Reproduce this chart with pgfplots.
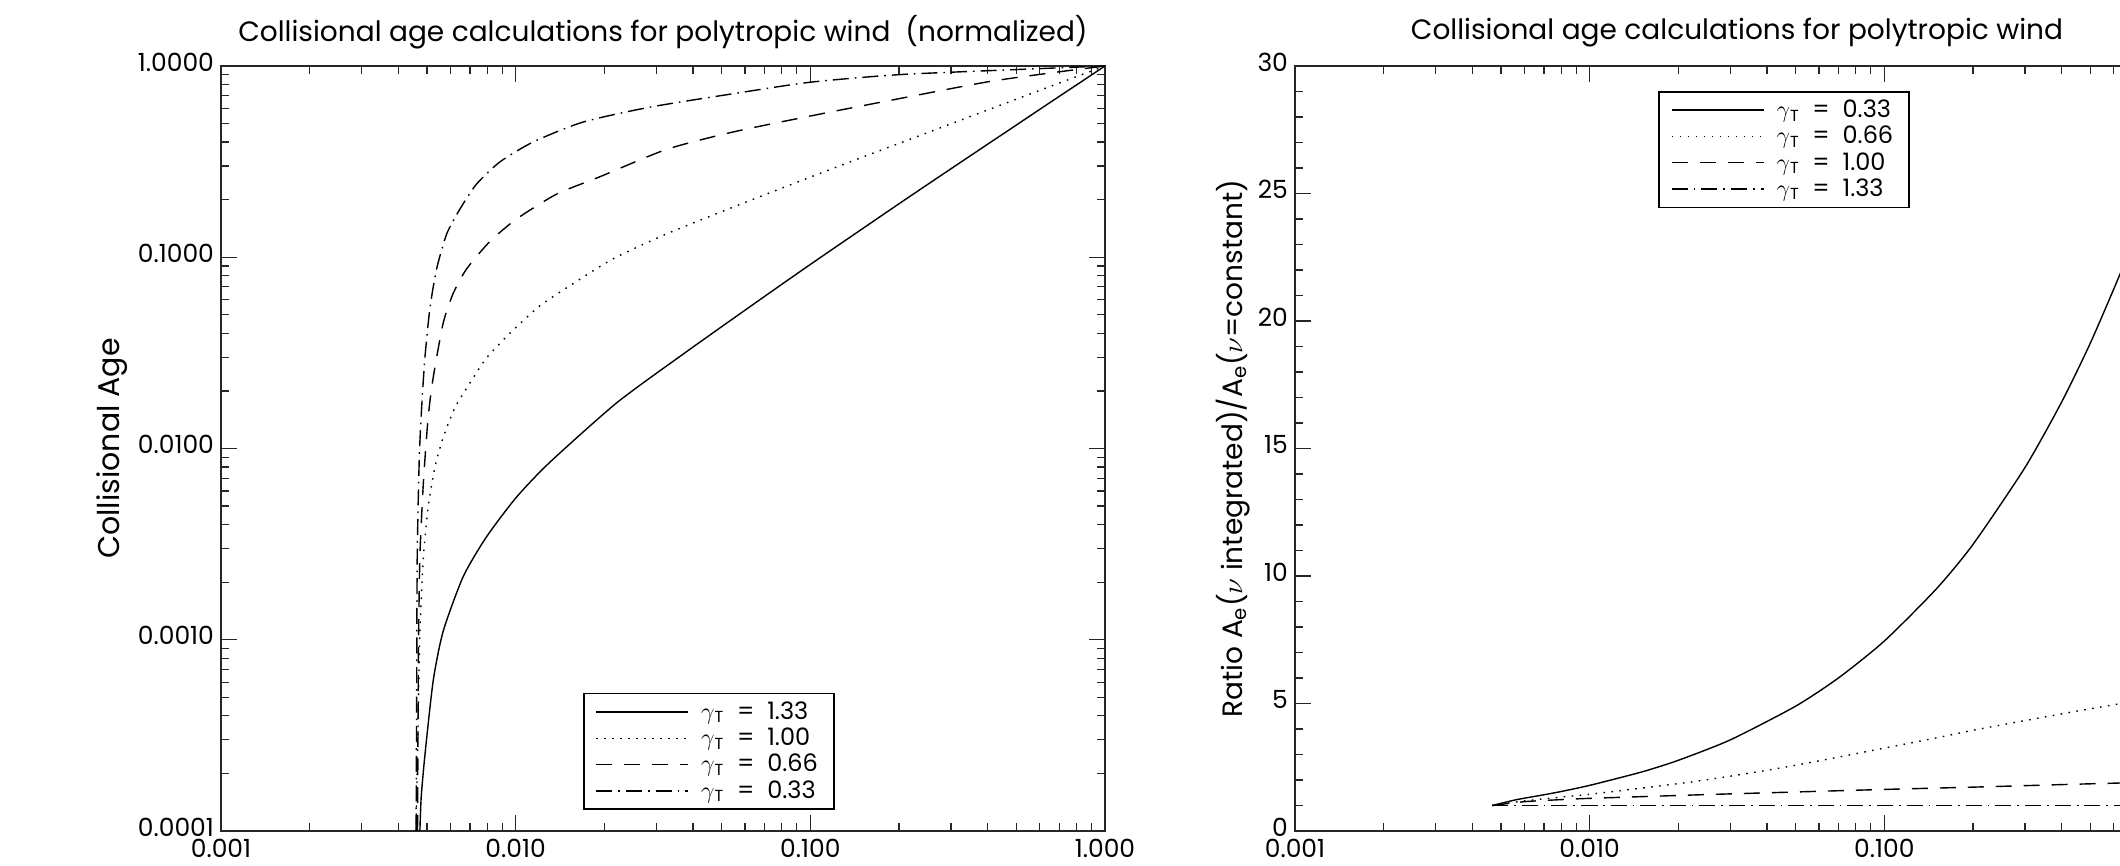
\documentclass[border=0pt]{standalone}
\usepackage{fontspec}
\setmainfont{Poppins}
\usepackage{pgfplots}
\pgfplotsset{compat=1.18}
\pgfplotsset{
  idl/.style={
    scale only axis, width=442pt, height=382.5pt, anchor=south west,
    axis line style={line width=0.7pt, black!85},
    tick align=inside, xtick pos=both, ytick pos=both,
    major tick length=8pt, minor tick length=4pt,
    every tick/.style={black!85, line width=0.6pt},
    tick label style={font=\fontsize{12.5}{14}\selectfont},
    xticklabel style={yshift=-0.3pt},
    yticklabel style={yshift=2pt},
    title style={font=\fontsize{14}{16}\selectfont, at={(axis description cs:0.5,1.028)}, anchor=center, yshift=0pt},
    /pgf/number format/assume math mode=true,
    xtick={0.001,0.01,0.1,1}, xticklabels={0.001,0.010,0.100,1.000},
    minor xtick={0.002,0.003,0.004,0.005,0.006,0.007,0.008,0.009,0.02,0.03,0.04,0.05,0.06,0.07,0.08,0.09,0.2,0.3,0.4,0.5,0.6,0.7,0.8,0.9},
    legend cell align=left,
    legend image code/.code={\draw[##1] (0pt,0pt) -- (46pt,0pt);},
    legend style={draw=black, line width=0.8pt, font=\fontsize{12}{14}\selectfont, inner xsep=6pt, inner ysep=2pt, row sep=-1.2pt, column sep=4pt, anchor=north west},
  },
  s1/.style={black, line width=0.7pt, smooth, tension=0.4},
  s2/.style={black, line width=0.7pt, smooth, tension=0.4, dash pattern=on 0.8pt off 3.2pt},
  s3/.style={black, line width=0.7pt, smooth, tension=0.4, dash pattern=on 8pt off 6pt},
  s4/.style={black, line width=0.7pt, smooth, tension=0.4, dash pattern=on 8pt off 3pt on 0.8pt off 3pt},
}
\begin{document}
\begin{tikzpicture}[x=1pt,y=1pt]
\useasboundingbox (0,0) rectangle (1060,433);
\clip (0,0) rectangle (1060,433);
\begin{axis}[xmode=log, ymode=log, xmin=0.001, xmax=1, ymin=1e-4, ymax=1, idl, at={(110.5pt,17.5pt)},
  ytick={1e-4,1e-3,1e-2,1e-1,1}, yticklabels={0.0001,0.0010,0.0100,0.1000,1.0000},
  minor ytick={2e-4,3e-4,4e-4,5e-4,6e-4,7e-4,8e-4,9e-4,2e-3,3e-3,4e-3,5e-3,6e-3,7e-3,8e-3,9e-3,0.02,0.03,0.04,0.05,0.06,0.07,0.08,0.09,0.2,0.3,0.4,0.5,0.6,0.7,0.8,0.9},
  title={Collisional age calculations for polytropic wind\ \ (normalized)},
  ylabel={Collisional Age},
  ylabel style={font=\fontsize{15}{17}\selectfont, at={(axis description cs:-0.1233,0.5)}, anchor=center},
  legend style={at={(0.4095,0.1806)}},
]
\addplot[s1] coordinates {(0.004732,1e-4) (0.00478,1.5e-4) (0.00492,2.483e-4) (0.005248,6.08e-4) (0.005675,1.107e-3) (0.006637,2.138e-3) (0.007962,3.451e-3) (0.01007,5.572e-3) (0.01306,8.47e-3) (0.02203,0.01734) (0.03707,0.0312) (0.06237,0.0551) (0.1,0.0917) (0.2,0.1904) (0.3,0.29) (0.5,0.491) (0.7,0.694) (1,1)};
\addlegendentry{$\gamma$\textsubscript{T}\ \ =\ \ 1.33}
\addplot[s2] coordinates {(0.004592,1e-4) (0.004677,4.52e-4) (0.004732,1.107e-3) (0.004864,2.716e-3) (0.005047,4.943e-3) (0.005321,7.98e-3) (0.005675,0.0114) (0.006223,0.01633) (0.006998,0.02203) (0.007962,0.02972) (0.009572,0.04009) (0.01208,0.05572) (0.0157,0.07295) (0.02143,0.09817) (0.03251,0.1324) (0.0547,0.1828) (0.09226,0.2501) (0.1585,0.3441) (0.2512,0.4496) (0.3981,0.5873) (0.631,0.7673) (1,1)};
\addlegendentry{$\gamma$\textsubscript{T}\ \ =\ \ 1.00}
\addplot[s3] coordinates {(0.004645,1e-4) (0.004677,8.2e-4) (0.004732,2.716e-3) (0.004864,6.668e-3) (0.005047,0.01449) (0.005248,0.02339) (0.005675,0.04519) (0.006138,0.06471) (0.006823,0.0871) (0.008185,0.1211) (0.01007,0.1585) (0.01377,0.2138) (0.01932,0.2636) (0.03251,0.3664) (0.0547,0.4519) (0.105,0.5559) (0.2014,0.6761) (0.4027,0.8279) (0.7031,0.9333) (1,1)};
\addlegendentry{$\gamma$\textsubscript{T}\ \ =\ \ 0.66}
\addplot[s4] coordinates {(0.004592,1e-4) (0.004613,4.52e-4) (0.004634,2.716e-3) (0.00471,8.97e-3) (0.004797,0.01633) (0.00492,0.02972) (0.005117,0.05408) (0.005395,0.0871) (0.005834,0.1324) (0.006471,0.1786) (0.007362,0.241) (0.008851,0.3155) (0.01148,0.4009) (0.01694,0.5093) (0.02858,0.6095) (0.0547,0.7161) (0.09977,0.8222) (0.2014,0.9016) (0.5321,0.9616) (1,1)};
\addlegendentry{$\gamma$\textsubscript{T}\ \ =\ \ 0.33}
\end{axis}
\begin{axis}[xmode=log, xmin=0.001, xmax=1, ymin=0, ymax=30, idl, at={(647.5pt,17.5pt)},
  ytick={0,5,10,15,20,25,30}, minor y tick num=4,
  title={Collisional age calculations for polytropic wind},
  ylabel={Ratio A\textsubscript{e}($\nu$ integrated)/A\textsubscript{e}($\nu$=constant)},
  ylabel style={font=\fontsize{14}{16}\selectfont, at={(axis description cs:-0.0701,0.5)}, anchor=center},
  legend style={at={(0.411,0.9673)}},
]
\addplot[s1] coordinates {(0.00467,1.0) (0.0055,1.2) (0.006,1.286) (0.007,1.421) (0.008,1.548) (0.01,1.79) (0.015,2.313) (0.02,2.773) (0.03,3.572) (0.05,4.895) (0.07,6.008) (0.1,7.45) (0.15,9.488) (0.2,11.24) (0.3,14.25) (0.4,16.83) (0.5,19.13) (0.622,21.67) (0.7,23.17) (0.85,25.85) (1,28.32)};
\addlegendentry{$\gamma$\textsubscript{T}\ \ =\ \ 0.33}
\addplot[s2] coordinates {(0.00467,1) (0.006,1.18) (0.008,1.33) (0.01,1.44) (0.015,1.68) (0.0237,1.97) (0.04,2.38) (0.06,2.75) (0.1,3.25) (0.15,3.65) (0.2,3.95) (0.3,4.33) (0.45,4.7) (0.622,4.98) (0.8,5.2) (1,5.4)};
\addlegendentry{$\gamma$\textsubscript{T}\ \ =\ \ 0.66}
\addplot[s3] coordinates {(0.00467,1) (0.006,1.15) (0.008,1.23) (0.01,1.28) (0.0237,1.42) (0.05,1.53) (0.1,1.63) (0.2,1.72) (0.4,1.82) (0.622,1.88) (1,1.95)};
\addlegendentry{$\gamma$\textsubscript{T}\ \ =\ \ 1.00}
\addplot[s4] coordinates {(0.00467,1) (1,1)};
\addlegendentry{$\gamma$\textsubscript{T}\ \ =\ \ 1.33}
\end{axis}
\end{tikzpicture}
\end{document}
